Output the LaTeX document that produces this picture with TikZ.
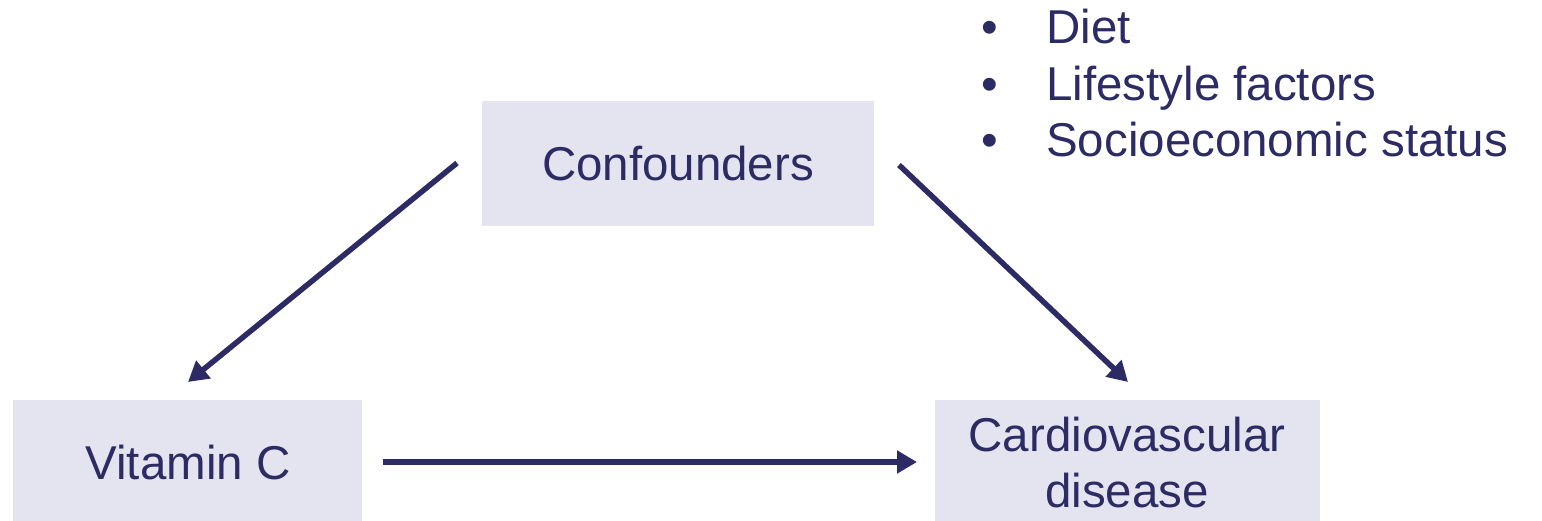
\documentclass[tikz,border=0pt]{standalone}
\usepackage{fontspec}
\setmainfont{Liberation Sans}
\usetikzlibrary{arrows.meta}
\definecolor{navy}{HTML}{2D2B63}
\definecolor{boxfill}{HTML}{E4E4F1}
\begin{document}
\begin{tikzpicture}[x=1pt,y=-1pt,
  box/.style={fill=boxfill,draw=none},
  lbl/.style={text=navy,font=\fontsize{47.5}{56}\selectfont,inner sep=0pt,anchor=base},
  item/.style={text=navy,font=\fontsize{47.5}{56}\selectfont,inner sep=0pt,anchor=base west},
  conn/.style={draw=navy,line width=5.5pt,-{Triangle[length=20pt,width=22pt]}}]
\useasboundingbox (0,0) rectangle (1542,521);
% boxes
\path[box] (482,101) rectangle (874,226);
\path[box] (13,400) rectangle (362,521);
\path[box] (935,400) rectangle (1320,521);
\node[lbl] (conf) at (678,181) {Confounders};
\node[lbl] (vitc) at (188,479) {Vitamin C};
\node[lbl] (cvd1) at (1127,451) {Cardiovascular};
\node[lbl] (cvd2) at (1127,507) {disease};
% bullet list
\node[lbl] (b1) at (990,44) {•};
\node[lbl] (b2) at (990,100.5) {•};
\node[lbl] (b3) at (990,157) {•};
\node[item] (i1) at (1046,44) {Diet};
\node[item] (i2) at (1046,100.5) {Lifestyle factors};
\node[item] (i3) at (1046,157) {Socioeconomic status};
% connectors
\coordinate (cl) at (457,163);
\coordinate (vt) at (188,382);
\coordinate (cr) at (899,165);
\coordinate (dt) at (1128,382);
\coordinate (vr) at (383,462);
\coordinate (dl) at (917,462);
\draw[conn] (cl) -- (vt);
\draw[conn] (cr) -- (dt);
\draw[conn] (vr) -- (dl);
\end{tikzpicture}
\end{document}
